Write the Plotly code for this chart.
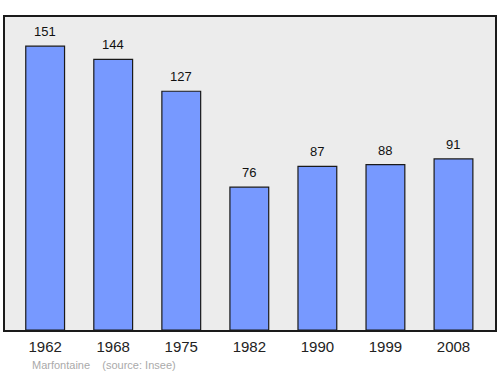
import plotly.graph_objects as go

years = ["1962", "1968", "1975", "1982", "1990", "1999", "2008"]
population = [151, 144, 127, 76, 87, 88, 91]
source_text = "Marfontaine    (source: Insee)"

fig = go.Figure()
fig.add_trace(go.Bar(
    x=list(range(len(years))), y=population, width=0.57,
    marker=dict(color="#7799ff", line=dict(color="#1a1a1a", width=1.2)),
    hoverinfo="skip",
))
for i, v in enumerate(population):
    fig.add_annotation(x=i, y=v, text=str(v), showarrow=False, yanchor="bottom",
                       yshift=5, font=dict(family="Liberation Sans", size=13, color="#111"))
fig.add_annotation(x=0.051, y=-0.112, xref="paper", yref="paper", text=source_text,
                   showarrow=False, xanchor="left", yanchor="middle",
                   font=dict(family="Liberation Sans", size=11, color="#aaaaaa"))

fig.update_layout(
    width=500, height=374, margin=dict(l=5, r=3, t=17, b=44),
    paper_bgcolor="white", plot_bgcolor="#ececec", showlegend=False,
    xaxis=dict(range=[-0.59, 6.61], tickvals=list(range(len(years))), ticktext=years,
               showgrid=False, zeroline=False, showline=True, mirror=True,
               linecolor="#1a1a1a", linewidth=1.5, ticks="outside", ticklen=2,
               tickcolor="rgba(0,0,0,0)",
               tickfont=dict(family="Liberation Sans", size=15, color="#222")),
    yaxis=dict(range=[0, 166.5], showgrid=False, zeroline=False, showticklabels=False,
               showline=True, mirror=True, linecolor="#1a1a1a", linewidth=1.5, ticks=""),
)
fig.write_html("out.html")
